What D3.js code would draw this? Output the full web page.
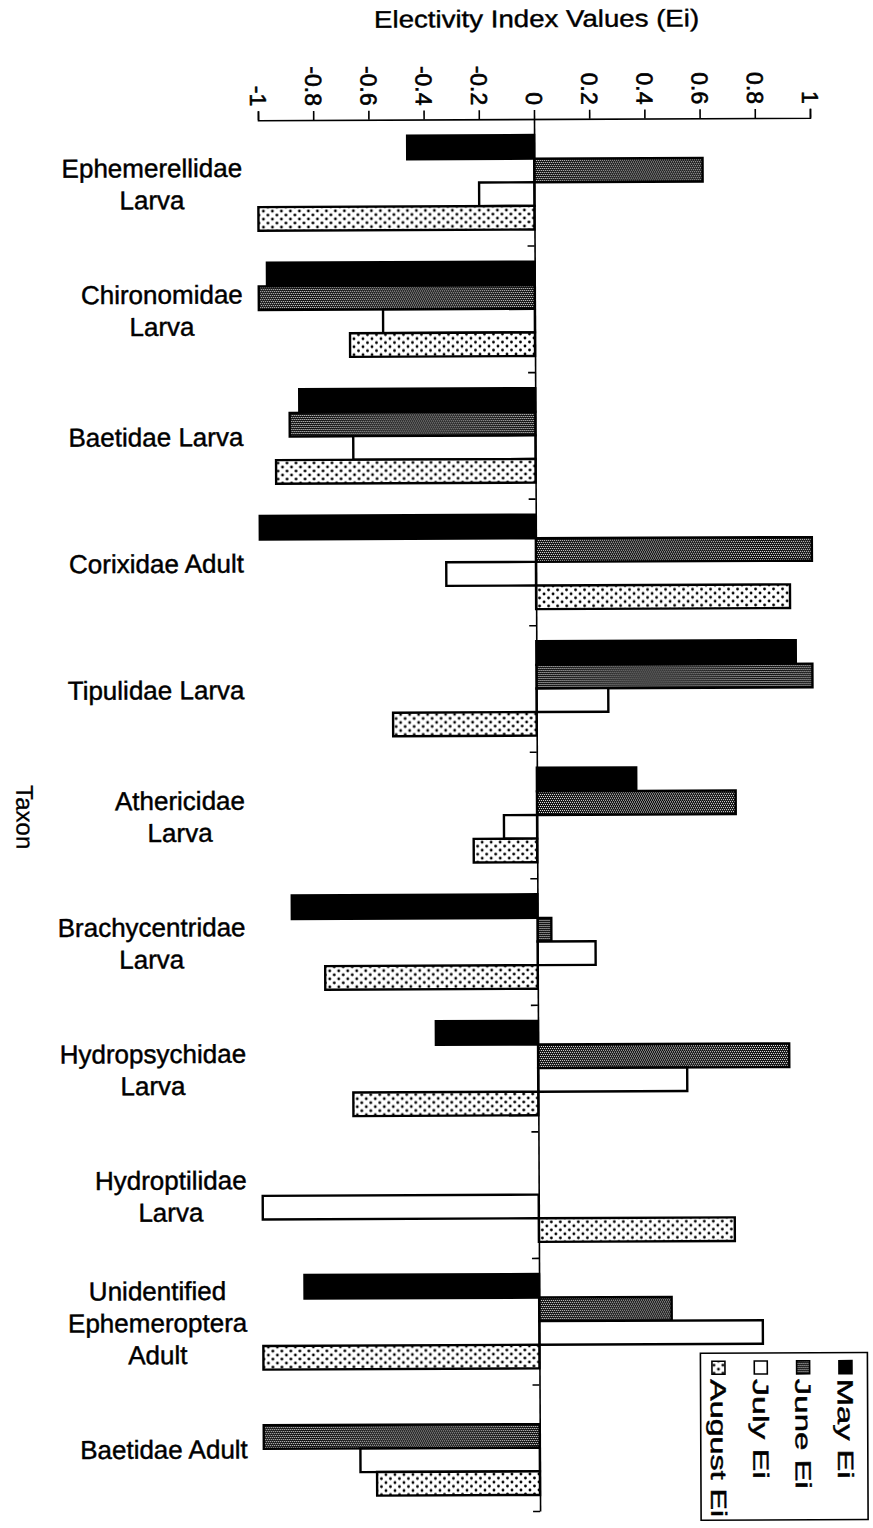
<!DOCTYPE html>
<html>
<head>
<meta charset="utf-8">
<script src="https://cdn.jsdelivr.net/npm/d3@7"></script>
<style>
  html, body { margin: 0; padding: 0; background: #fff; }
  svg { display: block; font-family: "Liberation Sans", Arial, Helvetica, sans-serif; }
</style>
</head>
<body>
<svg id="chart" width="873" height="1528"></svg>
<script>
// Taxa (label lines) and electivity index values per month (null = no bar)
const taxa = [
  ["Ephemerellidae", "Larva"],
  ["Chironomidae", "Larva"],
  ["Baetidae Larva"],
  ["Corixidae Adult"],
  ["Tipulidae Larva"],
  ["Athericidae", "Larva"],
  ["Brachycentridae", "Larva"],
  ["Hydropsychidae", "Larva"],
  ["Hydroptilidae", "Larva"],
  ["Unidentified", "Ephemeroptera", "Adult"],
  ["Baetidae Adult"]
];
const months = ["May Ei", "June Ei", "July Ei", "August Ei"];
const mayEi    = [-0.46, -0.97, -0.855, -1.0, 0.94, 0.36, -0.89, -0.37, null, -0.85, null];
const juneEi   = [0.61, -1.0, -0.89, 1.0, 1.0, 0.72, 0.05, 0.91, null, 0.48, -1.0];
const julyEi   = [-0.20, -0.55, -0.66, -0.325, 0.26, -0.12, 0.21, 0.54, -1.0, 0.81, -0.65];
const augustEi = [-1.0, -0.67, -0.94, 0.92, -0.52, -0.23, -0.77, -0.67, 0.71, -1.0, -0.59];
const tickValues = [-1, -0.8, -0.6, -0.4, -0.2, 0, 0.2, 0.4, 0.6, 0.8, 1];
const tickLabels = ["-1", "-0.8", "-0.6", "-0.4", "-0.2", "0", "0.2", "0.4", "0.6", "0.8", "1"];

const series = [mayEi, juneEi, julyEi, augustEi];
const fills = ["#000", "url(#june-fill)", "#fff", "url(#august-fill)"];

const svg = d3.select("#chart");
svg.append("rect").attr("width", 873).attr("height", 1528).attr("fill", "#fff");

// Fill patterns for June (dark stipple) and August (sparse dots)
const defs = svg.append("defs");
const pj = defs.append("pattern").attr("id", "june-fill")
  .attr("patternUnits", "userSpaceOnUse").attr("width", 4).attr("height", 4);
pj.append("rect").attr("width", 4).attr("height", 4).attr("fill", "#111");
[[0, 0], [2, 0], [1, 2], [3, 2]].forEach(([a, b]) =>
  pj.append("rect").attr("x", a).attr("y", b).attr("width", 1).attr("height", 1).attr("fill", "#eee"));
const pa = defs.append("pattern").attr("id", "august-fill")
  .attr("patternUnits", "userSpaceOnUse").attr("width", 9).attr("height", 8);
pa.append("rect").attr("width", 9).attr("height", 8).attr("fill", "#fff");
[[2, 2], [6.5, 6]].forEach(([a, b]) =>
  pa.append("circle").attr("cx", a).attr("cy", b).attr("r", 1.4).attr("fill", "#000"));

// Whole figure sits slightly tilted
const g = svg.append("g").attr("transform", "rotate(-0.25, 534, 118)");

const axisY = 119;
const x = d3.scaleLinear().domain([-1, 1]).range([258, 810]);
const y0 = d3.scaleBand().domain(d3.range(taxa.length)).range([axisY, 1511]).padding(0);
const y1 = d3.scaleBand().domain(d3.range(months.length)).range([0, y0.bandwidth()])
  .paddingInner(0).paddingOuter(0.68);

// Bars
const bars = [];
taxa.forEach((t, i) => series.forEach((s, m) => {
  if (s[i] !== null) bars.push({ i, m, v: s[i] });
}));
g.append("g").selectAll("rect").data(bars).join("rect")
  .attr("x", d => x(Math.min(0, d.v)))
  .attr("y", d => y0(d.i) + y1(d.m))
  .attr("width", d => Math.abs(x(d.v) - x(0)))
  .attr("height", y1.bandwidth())
  .attr("fill", d => fills[d.m])
  .attr("stroke", "#000")
  .attr("stroke-width", 2.4);

// Value axis along the top, labels turned to read downward
const topAxis = g.append("g").attr("transform", `translate(0,${axisY})`)
  .call(d3.axisTop(x).tickValues(tickValues).tickSize(9).tickSizeOuter(9)
    .tickFormat((d, k) => tickLabels[k]));
topAxis.select(".domain").attr("stroke-width", 1.6);
topAxis.selectAll(".tick line").attr("stroke-width", 1.6);
topAxis.selectAll(".tick text")
  .attr("transform", "rotate(90)")
  .attr("x", -14).attr("y", 0).attr("dy", "0.36em")
  .attr("text-anchor", "end")
  .attr("font-size", 23).attr("fill", "#000")
  .attr("font-family", "'Liberation Sans', Arial, sans-serif")
  .attr("stroke", "#000").attr("stroke-width", 0.6);

// Category axis along zero, ticks between taxa
const yb = d3.scaleLinear().domain([0, taxa.length]).range([axisY, 1511]);
const leftAxis = g.append("g").attr("transform", `translate(${x(0)},0)`)
  .call(d3.axisLeft(yb).tickValues(d3.range(1, taxa.length + 1)).tickSize(7).tickSizeOuter(0)
    .tickFormat(""));
leftAxis.select(".domain").attr("stroke-width", 1.6);
leftAxis.selectAll(".tick line").attr("stroke-width", 1.6);

// Taxon labels: block right-aligned, lines centred within block
const lineH = 32;
const labels = g.append("g").attr("font-size", 26).attr("fill", "#000")
  .attr("stroke", "#000").attr("stroke-width", 0.45);
taxa.forEach((lines, i) => {
  const cy = y0(i) + y0.bandwidth() / 2;
  const tg = labels.append("g");
  const texts = lines.map((ln, k) => tg.append("text")
    .attr("y", cy + (k - (lines.length - 1) / 2) * lineH)
    .attr("dy", "0.36em").attr("text-anchor", "middle").text(ln));
  const w = d3.max(texts, t => t.node().getComputedTextLength());
  texts.forEach(t => t.attr("x", 242 - w / 2));
});

// Axis titles
g.append("text").attr("x", 537).attr("y", 27).attr("text-anchor", "middle")
  .attr("font-size", 24).attr("stroke", "#000").attr("stroke-width", 0.4)
  .attr("textLength", 325).attr("lengthAdjust", "spacingAndGlyphs")
  .text("Electivity Index Values (Ei)");
g.append("text").attr("transform", `translate(22,${y0(5) + y0.bandwidth() / 2}) rotate(90)`)
  .attr("text-anchor", "middle").attr("dy", "0.36em")
  .attr("font-size", 24).attr("stroke", "#000").attr("stroke-width", 0.3)
  .text("Taxon");

// Legend, rotated like the value labels
const legend = g.append("g");
legend.append("rect").attr("x", 695).attr("y", 1354).attr("width", 167).attr("height", 167)
  .attr("fill", "#fff").attr("stroke", "#000").attr("stroke-width", 1.6);
const legendLen = [100, 110, 100, 138];
const lx = d3.scalePoint().domain(d3.range(months.length)).range([840, 713]);
months.forEach((name, m) => {
  const cx = lx(m);
  legend.append("rect").attr("x", cx - 6.5).attr("y", 1362).attr("width", 13).attr("height", 13)
    .attr("fill", fills[m]).attr("stroke", "#000").attr("stroke-width", 1.6);
  legend.append("text").attr("transform", `translate(${cx},1380) rotate(90)`)
    .attr("dy", "0.36em").attr("font-size", 22)
    .attr("stroke", "#000").attr("stroke-width", 0.45)
    .attr("textLength", legendLen[m]).attr("lengthAdjust", "spacingAndGlyphs")
    .text(name);
});
</script>
</body>
</html>
